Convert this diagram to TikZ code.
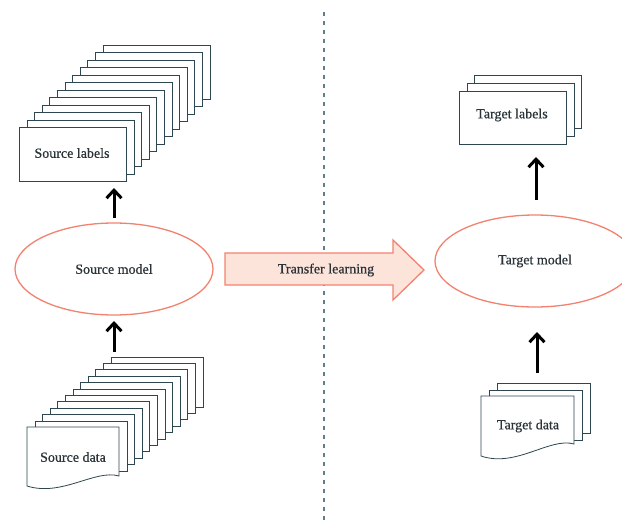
\documentclass[tikz,border=0pt]{standalone}
\usepackage{fontspec}
\setmainfont{Liberation Serif}
\newfontfamily\lblfont[FakeBold=0.6]{Liberation Serif}
\usetikzlibrary{arrows.meta,shapes.geometric}
\definecolor{salmon}{HTML}{F2826E}
\definecolor{pinkfill}{HTML}{FDE4DA}
\definecolor{boxline}{HTML}{2E4650}
\definecolor{dashcol}{HTML}{5F7E8A}
\definecolor{txt}{HTML}{2A3338}
\tikzset{
  sheet/.style={draw=boxline, line width=0.8pt, fill=white, inner sep=0pt, anchor=north west},
  docline/.style={draw=boxline, line width=0.8pt, fill=white},
  model/.style={ellipse, draw=salmon, line width=1.3pt, inner sep=0pt},
  lbl/.style={font=\lblfont\fontsize{14}{16}\selectfont, text=txt},
  uparrow/.style={-{Straight Barb[length=8pt,width=15pt,line width=3pt]}, line width=3pt, black},
}
\begin{document}
\begin{tikzpicture}[x=1pt,y=-1pt]
\useasboundingbox (0,0) rectangle (622,522);
% divider
\coordinate (dtop) at (324,12);
\coordinate (dbot) at (324,522);
\draw[dashcol, line width=1.2pt, dash pattern=on 3.5pt off 5.5pt] (dtop) -- (dbot);

% source labels stack
\foreach \i in {11,...,1}{
  \node[sheet, minimum width=107pt, minimum height=54pt] (sl\i) at ({19+7.6*\i},{127-7.5*\i}) {};
}
\node[sheet, minimum width=107pt, minimum height=54pt] (sl) at (19,127) {};
\node[lbl] (sltext) at (72,153) {Source labels};

% source data stack
\foreach \i in {11,...,1}{
  \node[sheet, minimum width=92pt, minimum height=50pt] (sd\i) at ({27+7.6*\i},{427-6.4*\i}) {};
}
\coordinate (sdnw) at (27,427);
\coordinate (sdne) at (119,427);
\coordinate (sdse) at (119,476);
\coordinate (sdsw) at (27,486);
\draw[docline] (sdnw) -- (sdne) -- (sdse)
  .. controls (95,469) and (62,497) .. (sdsw) -- cycle;
\node[lbl] (sdtext) at (73,457) {Source data};

% source model
\node[model, minimum width=198pt, minimum height=92pt] (sm) at (114,269) {};
\node[lbl] at (sm.center) {Source model};

% source arrows
\coordinate (a1b) at (114,218);
\coordinate (a1t) at (114,188);
\coordinate (a2b) at (114,352);
\coordinate (a2t) at (114,321);
\draw[uparrow] (a1b) -- (a1t);
\draw[uparrow] (a2b) -- (a2t);

% transfer arrow
\coordinate (t1) at (225,253);
\coordinate (t2) at (393,253);
\coordinate (t3) at (393,240);
\coordinate (t4) at (424,270);
\coordinate (t5) at (393,300);
\coordinate (t6) at (393,285);
\coordinate (t7) at (225,285);
\draw[salmon, fill=pinkfill, line width=1.3pt, line join=miter] (t1) -- (t2) -- (t3) -- (t4) -- (t5) -- (t6) -- (t7) -- cycle;
\node[lbl] (tl) at (326,270) {Transfer learning};

% target labels stack
\foreach \i in {2,1}{
  \node[sheet, minimum width=107pt, minimum height=53pt] (tl\i) at ({459+7.5*\i},{91-8*\i}) {};
}
\node[sheet, minimum width=107pt, minimum height=53pt] (tlab) at (459,91) {};
\node[lbl] at (512,115) {Target labels};

% target model
\node[model, minimum width=200pt, minimum height=92pt] (tm) at (535,261) {};
\node[lbl] at (tm.center) {Target model};

% target data stack
\foreach \i in {2,1}{
  \node[sheet, minimum width=93pt, minimum height=50pt] (td\i) at ({481+8*\i},{396-6.5*\i}) {};
}
\coordinate (tdnw) at (481,396);
\coordinate (tdne) at (574,396);
\coordinate (tdse) at (574,444);
\coordinate (tdsw) at (481,456);
\draw[docline] (tdnw) -- (tdne) -- (tdse)
  .. controls (550,437) and (516,468) .. (tdsw) -- cycle;
\node[lbl] at (528,426) {Target data};

% target arrows
\coordinate (b1b) at (536,200);
\coordinate (b1t) at (536,157);
\coordinate (b2b) at (537,373);
\coordinate (b2t) at (537,332);
\draw[uparrow] (b1b) -- (b1t);
\draw[uparrow] (b2b) -- (b2t);
\end{tikzpicture}
\end{document}
